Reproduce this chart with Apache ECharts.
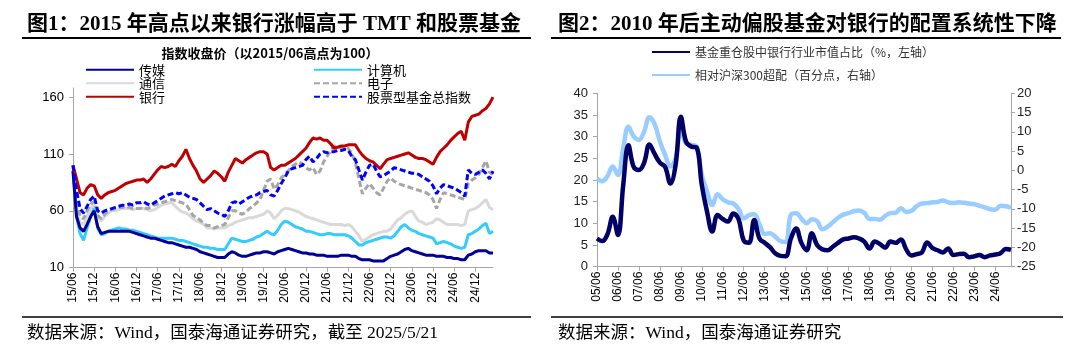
<!DOCTYPE html>
<html><head><meta charset="utf-8">
<script src="https://cdn.jsdelivr.net/npm/echarts@6/dist/echarts.min.js"></script>
<style>html,body{margin:0;padding:0;background:#fff}#c{width:1080px;height:350px}</style>
</head><body><div id="c"></div>
<script>
// ---------- Figure 1: monthly index values (2015/06 high = 100), 2015/06 .. 2025/05 ----------
const media = [95,55,45,42,48,55,60,46,40,41,42,42,42,42,42,42,42,41,40,39,38,37,36,36,35,34,33,32,32,31,30,29,28,28,27,26,24,23,22,21,20,19,19,19,22,24,23,21,20,20,21,22,23,23,24,24,23,22,24,25,26,27,26,25,24,23,23,22,22,21,21,21,20,20,20,20,21,21,21,20,20,18,17,17,17,16,16,16,16,18,20,21,22,24,26,27,25,24,23,22,21,21,21,20,20,20,19,19,18,18,17,17,21,22,24,25,25,25,23,23];
const computer = [95,55,40,34,45,55,62,45,39,40,42,43,44,45,44,44,43,43,42,41,40,39,38,37,36,36,36,36,36,35,34,34,33,32,31,30,29,28,28,27,27,26,26,26,31,36,35,34,33,33,34,35,37,38,40,42,40,39,43,48,51,50,48,46,45,44,42,42,41,40,39,39,40,40,39,39,39,39,38,36,33,30,30,32,33,34,35,36,37,37,36,38,42,46,48,45,43,42,40,39,38,37,36,31,32,33,32,31,29,28,27,28,39,40,42,44,47,49,40,42];
const telecom = [100,60,50,48,55,62,65,54,51,55,58,60,60,61,62,62,62,61,62,62,62,61,60,61,63,65,66,67,67,64,61,59,58,56,53,51,50,48,45,45,44,45,45,45,47,48,50,51,52,53,54,54,55,56,57,60,58,53,56,60,62,62,61,60,59,57,55,54,53,52,51,50,49,48,48,48,48,47,48,46,42,38,33,35,37,39,40,41,42,42,44,48,52,54,57,59,60,55,51,50,48,49,50,53,52,50,48,48,48,48,47,48,60,61,62,64,67,70,63,61];
const electronics = [100,72,55,53,60,66,68,56,53,57,60,61,62,63,63,64,63,62,62,62,63,62,63,65,66,67,68,69,70,69,68,67,66,61,56,54,52,49,47,47,45,46,47,48,54,60,60,58,57,59,62,64,67,70,78,86,88,79,83,89,92,95,99,101,103,101,98,96,98,92,95,103,108,113,117,116,115,116,115,110,103,88,75,80,84,80,76,74,80,86,89,86,84,83,82,81,80,79,78,77,76,74,70,62,70,76,75,74,73,72,71,70,84,87,89,92,98,104,94,92];
const banks = [100,88,76,74,80,83,82,74,71,74,76,77,78,80,82,84,85,86,87,87,88,85,88,92,96,99,98,99,101,99,104,108,114,106,100,95,88,85,88,91,95,93,90,86,94,100,106,104,102,105,107,109,111,112,112,110,98,96,98,100,100,102,104,106,109,112,115,120,124,123,124,122,122,119,115,116,117,117,118,118,118,113,109,106,104,103,100,97,101,105,106,107,108,109,110,111,109,107,106,106,105,103,101,107,112,115,118,122,125,128,130,122,138,143,144,145,148,150,154,160];
const equityFund = [100,78,62,58,64,70,73,60,58,60,61,62,63,64,65,65,66,65,67,67,68,66,65,67,69,71,73,74,75,76,75,76,74,72,71,70,67,64,61,62,60,58,57,55,60,67,68,66,68,70,72,73,74,76,77,78,74,73,78,84,89,95,97,98,99,100,105,108,103,106,110,112,111,112,112,113,113,114,113,108,105,96,87,94,100,101,95,90,91,93,95,98,97,96,95,94,93,93,92,90,88,86,82,75,80,83,82,81,80,78,76,73,96,93,92,94,96,93,88,95];
const fig1Names = ['传媒','计算机','通信','电子','银行','股票型基金总指数'];
const fig1YTicks = {min:10, max:168, interval:50};

// ---------- Figure 2: quarterly, 2005/06 .. 2025/03 ----------
const bankShare = [6.5,5.9,7.5,11.5,7.3,18.8,28.0,23.0,22.3,24.0,28.2,26.0,24.0,23.0,19.2,23.5,34.6,28.8,27.7,27.5,18.8,12.7,8.1,11.9,11.0,10.4,12.3,11.0,6.0,5.5,10.8,6.5,5.5,4.5,3.1,2.5,2.4,6.5,8.8,5.5,3.8,7.7,5.0,4.0,3.8,4.6,5.5,6.3,6.5,6.8,6.5,5.8,4.2,5.8,5.2,4.4,5.8,5.5,6.3,4.0,2.6,2.9,3.3,5.6,4.3,3.8,3.3,4.2,2.7,2.9,3.0,2.2,2.4,2.7,2.2,2.6,2.8,3.1,4.1,3.9];
const overweight = [-2.1,-2.8,-1.5,1.0,-1.2,5.7,11.3,8.8,7.9,10.1,13.8,12.0,7.5,4.0,1.0,3.1,10.5,7.0,6.6,6.2,-1.2,-5.5,-9.0,-6.2,-7.5,-8.3,-8.6,-10.0,-12.5,-11.6,-11.4,-14.0,-16.5,-16.3,-17.2,-18.3,-18.6,-11.5,-11.1,-12.5,-13.7,-12.7,-13.2,-15.3,-14.6,-13.5,-12.3,-11.5,-11.1,-10.6,-10.4,-11.0,-12.6,-12.6,-12.8,-11.8,-11.1,-11.0,-9.8,-10.8,-10.5,-9.3,-8.6,-8.5,-8.3,-8.2,-7.8,-8.3,-8.5,-8.3,-8.4,-8.6,-8.8,-9.2,-9.6,-10.1,-10.2,-9.2,-9.3,-9.7];
const fig2Names = ['基金重仓股中银行行业市值占比（%，左轴）','相对沪深300超配（百分点，右轴）'];
const fig2LeftTicks = {min:0, max:40, interval:5};
const fig2RightTicks = {min:-25, max:20, interval:5};

// category labels
const months = [];
for (let y = 2015, m = 6; months.length < 120; ) {
  months.push(String(y % 100).padStart(2,'0') + '/' + String(m).padStart(2,'0'));
  m++; if (m > 12) { m = 1; y++; }
}
const quarters = [];
for (let y = 2005, m = 6; quarters.length < 80; ) {
  quarters.push(String(y % 100).padStart(2,'0') + '/' + String(m).padStart(2,'0'));
  m += 3; if (m > 12) { m -= 12; y++; }
}

const SERIF = '"Liberation Serif","Times New Roman","Noto Sans CJK SC",serif';
const SANS = 'Arial,"Liberation Sans","Noto Sans CJK SC",sans-serif';
const CJK = '"Noto Sans CJK SC",sans-serif';
const AX = '#A6A6A6';

const chart = echarts.init(document.getElementById('c'), null, {renderer:'canvas'});

function lineS(name, data, color, width, dashed, xi, yi, smooth, z) {
  return {
    name, type:'line', data, xAxisIndex:xi, yAxisIndex:yi, symbol:'none', showSymbol:false, smooth: smooth || false,
    lineStyle:{color, width, type: dashed ? [6,3] : 'solid'}, itemStyle:{color}, z: z || 2,
    animation:false
  };
}

const legendItem = {opacity:0};

const option = {
  animation:false,
  backgroundColor:'#fff',
  title:[
    {text:'图1：2015 年高点以来银行涨幅高于 TMT 和股票基金', left:22, top:9,
     textStyle:{fontFamily:SERIF, fontSize:21, fontWeight:'bold', color:'#000'}},
    {text:'图2：2010 年后主动偏股基金对银行的配置系统性下降', left:553, top:9,
     textStyle:{fontFamily:SERIF, fontSize:21, fontWeight:'bold', color:'#000'}},
    {text:'指数收盘价（以2015/06高点为100）', left:265, textAlign:'center', top:42,
     textStyle:{fontFamily:CJK, fontSize:13, fontWeight:'bold', color:'#000'}},
    {text:'数据来源：Wind，国泰海通证券研究，截至 2025/5/21', left:22, top:320,
     textStyle:{fontFamily:SERIF, fontSize:17.5, fontWeight:'normal', color:'#000'}},
    {text:'数据来源：Wind，国泰海通证券研究', left:553, top:320,
     textStyle:{fontFamily:SERIF, fontSize:17.5, fontWeight:'normal', color:'#000'}}
  ],
  graphic:[
    {type:'line', shape:{x1:22,y1:38,x2:531,y2:38}, style:{stroke:'#000', lineWidth:2}},
    {type:'line', shape:{x1:551,y1:38,x2:1061,y2:38}, style:{stroke:'#000', lineWidth:2}},
    {type:'line', shape:{x1:22,y1:317,x2:531,y2:317}, style:{stroke:'#000', lineWidth:1.5}},
    {type:'line', shape:{x1:551,y1:317,x2:1063,y2:317}, style:{stroke:'#000', lineWidth:1.5}}
  ],
  legend:[
    {orient:'vertical', left:80, top:58, itemWidth:48, itemHeight:8, itemGap:0, itemStyle:legendItem,
     data:['传媒','通信','银行'],
     textStyle:{fontFamily:CJK, fontSize:13, lineHeight:13.5, color:'#000'}},
    {orient:'vertical', left:308, top:58, itemWidth:48, itemHeight:8, itemGap:0, itemStyle:legendItem,
     data:['计算机','电子','股票型基金总指数'],
     textStyle:{fontFamily:CJK, fontSize:13, lineHeight:13.5, color:'#000'}},
    {orient:'vertical', left:646, top:39, itemWidth:38, itemHeight:10, itemGap:7, itemStyle:legendItem,
     data:fig2Names, textStyle:{fontFamily:CJK, fontSize:12, lineHeight:16, color:'#333'}}
  ],
  grid:[
    {left:73, top:88, width:420, height:179.7, containLabel:false},
    {left:597, top:93.3, width:414, height:173.4, containLabel:false}
  ],
  xAxis:[
    {type:'category', gridIndex:0, data:months, boundaryGap:false,
     axisLine:{lineStyle:{color:AX}}, axisTick:{interval:5, lineStyle:{color:AX}, length:4},
     axisLabel:{interval:5, rotate:90, fontFamily:SANS, fontSize:12, color:'#000', margin:5}},
    {type:'category', gridIndex:1, data:quarters, boundaryGap:false,
     axisLine:{lineStyle:{color:AX}}, axisTick:{interval:3, lineStyle:{color:AX}, length:4},
     axisLabel:{interval:3, rotate:90, fontFamily:SANS, fontSize:12, color:'#000', margin:5}}
  ],
  yAxis:[
    {type:'value', gridIndex:0, min:fig1YTicks.min, max:fig1YTicks.max, interval:fig1YTicks.interval,
     splitLine:{show:false}, axisLine:{show:true, lineStyle:{color:AX}}, axisTick:{show:true, length:4, lineStyle:{color:AX}},
     axisLabel:{fontFamily:SANS, fontSize:13, color:'#000', margin:9, showMaxLabel:false}},
    {type:'value', gridIndex:1, position:'left', min:fig2LeftTicks.min, max:fig2LeftTicks.max, interval:fig2LeftTicks.interval,
     splitLine:{show:false}, axisLine:{show:true, lineStyle:{color:AX}}, axisTick:{show:true, length:4, lineStyle:{color:AX}},
     axisLabel:{fontFamily:SANS, fontSize:13, color:'#222', margin:9}},
    {type:'value', gridIndex:1, position:'right', min:fig2RightTicks.min, max:fig2RightTicks.max, interval:fig2RightTicks.interval,
     alignTicks:false,
     splitLine:{show:false}, axisLine:{show:true, lineStyle:{color:AX}}, axisTick:{show:true, length:4, lineStyle:{color:AX}},
     axisLabel:{fontFamily:SANS, fontSize:13, color:'#222', margin:6}}
  ],
  series:[
    lineS(fig1Names[2], telecom, '#D9D9D9', 3, false, 0, 0),
    lineS(fig1Names[3], electronics, '#A6A6A6', 3, true, 0, 0),
    lineS(fig1Names[1], computer, '#33CCFF', 3, false, 0, 0),
    lineS(fig1Names[0], media, '#000099', 3, false, 0, 0),
    lineS(fig1Names[4], banks, '#C00000', 3, false, 0, 0),
    lineS(fig1Names[5], equityFund, '#0000FF', 3, true, 0, 0),
    lineS(fig2Names[1], overweight, '#99CCFF', 4.5, false, 1, 2, 0.4),
    lineS(fig2Names[0], bankShare, '#000066', 4.5, false, 1, 1, 0.4, 3)
  ]
};
chart.setOption(option);
</script></body></html>
